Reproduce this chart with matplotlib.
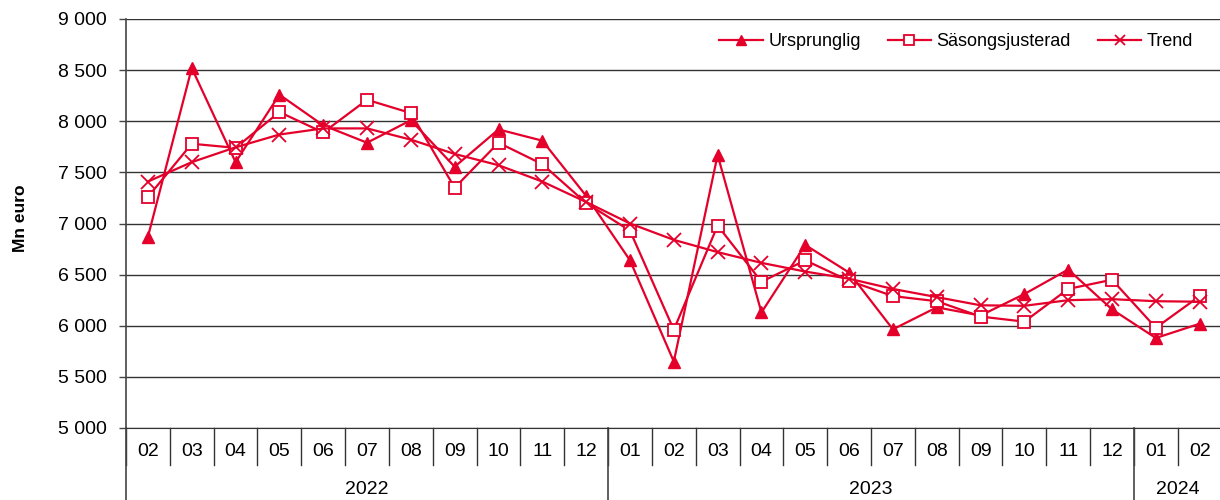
import matplotlib
matplotlib.use("Agg")
import matplotlib.pyplot as plt
from matplotlib.ticker import FuncFormatter
import matplotlib.transforms as mtransforms

plt.rcParams['font.family'] = ['Liberation Sans', 'DejaVu Sans']

months = ["02", "03", "04", "05", "06", "07", "08", "09", "10", "11", "12",
          "01", "02", "03", "04", "05", "06", "07", "08", "09", "10", "11", "12",
          "01", "02"]
years = ["2022", "2023", "2024"]
year_counts = [11, 12, 2]

ursprunglig = [6870, 8520, 7600, 8260, 7960, 7790, 8010, 7555, 7920, 7810, 7270,
               6640, 5650, 7670, 6130, 6790, 6520, 5965, 6180, 6100, 6310, 6550, 6160,
               5880, 6020]
sasongsjusterad = [7260, 7780, 7740, 8090, 7890, 8210, 8080, 7350, 7790, 7580, 7200,
                   6930, 5960, 6980, 6430, 6640, 6440, 6290, 6240, 6090, 6040, 6360, 6450,
                   5980, 6290]
trend = [7410, 7600, 7745, 7870, 7930, 7930, 7820, 7680, 7570, 7410, 7210,
         7000, 6840, 6720, 6615, 6530, 6460, 6360, 6280, 6200, 6195, 6250, 6260,
         6240, 6235]
yticks = [5000, 5500, 6000, 6500, 7000, 7500, 8000, 8500, 9000]

RED = '#E4002B'

fig = plt.figure(figsize=(12.2, 5.0), dpi=100)
ax = fig.add_axes([0.1033, 0.144, 0.898, 0.818])

x = list(range(len(months)))
ax.plot(x, ursprunglig, color=RED, lw=1.6, marker='^', ms=9, mec=RED, mfc=RED,
        label='Ursprunglig', zorder=3)
ax.plot(x, sasongsjusterad, color=RED, lw=1.6, marker='s', ms=9, mec=RED, mfc='white',
        mew=1.3, label='Säsongsjusterad', zorder=4)
ax.plot(x, trend, color=RED, lw=1.6, marker='x', ms=10, mec=RED, mew=1.3,
        label='Trend', zorder=5)

ax.set_xlim(-0.5, len(months) - 0.5)
ax.set_ylim(yticks[0], yticks[-1])
ax.set_yticks(yticks)
ax.yaxis.set_major_formatter(FuncFormatter(lambda v, p: f"{int(v):,}".replace(",", " ")))
ax.grid(axis='y', color='#333333', lw=1.0)
ax.set_axisbelow(True)

for s in ['top', 'right']:
    ax.spines[s].set_visible(False)
ax.spines['left'].set_color('#444444')
ax.spines['bottom'].set_color('#333333')
ax.spines['left'].set_linewidth(1.2)

ax.tick_params(axis='y', length=5, width=1, color='#444444', labelsize=14, pad=9)
ax.set_xticks(x)
ax.set_xticklabels(months)
ax.tick_params(axis='x', length=0, labelsize=14, pad=11)

# multi-level category separators
trans = mtransforms.blended_transform_factory(ax.transData, ax.transAxes)
for i in range(len(months) + 1):
    ax.plot([i - 0.5, i - 0.5], [0, -0.09], transform=trans, color='#333333',
            lw=1.0, clip_on=False)
start = 0
for yname, cnt in zip(years, year_counts):
    ax.plot([start - 0.5, start - 0.5], [0, -0.176], transform=trans, color='#444444',
            lw=1.2, clip_on=False)
    ax.text(start - 0.5 + cnt / 2, -0.15, yname, transform=trans, ha='center',
            va='center', fontsize=14)
    start += cnt

ax.set_ylabel('Mn euro', fontsize=12.5, fontweight='bold')
ax.yaxis.set_label_coords(-0.0895, 0.513)

leg = ax.legend(loc='center right', bbox_to_anchor=(0.974, 0.944), ncol=3,
                frameon=False, fontsize=13, handlelength=2.4, handletextpad=0.3,
                columnspacing=1.5, borderaxespad=0, borderpad=0, markerscale=0.75)

fig.savefig('out.png', dpi=100)
